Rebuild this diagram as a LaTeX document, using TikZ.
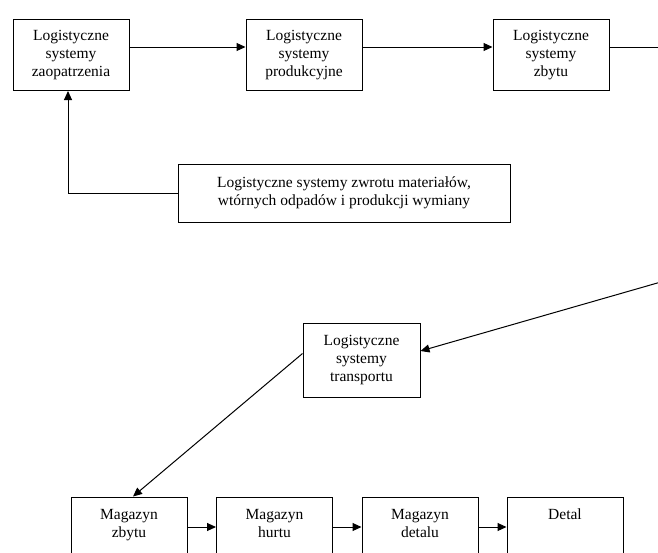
\documentclass[tikz,border=0pt]{standalone}
\usepackage{fontspec}
\setmainfont{Liberation Serif}
\usetikzlibrary{positioning, calc, arrows.meta}

\tikzset{
    box/.style={draw, line width=1pt, minimum width=116pt, minimum height=71pt,
        align=center, inner sep=2pt, font=\fontsize{15.5}{18.3}\selectfont},
    flow/.style={line width=1pt, -{Triangle[length=9pt, width=8pt]}},
    wire/.style={line width=1pt}
}

\begin{document}
\begin{tikzpicture}[x=1pt, y=-1pt]
        \useasboundingbox (0,0) rectangle (658,552);

        % Top row
        \node[box] (sup) at (71,55) {Logistyczne\\systemy\\zaopatrzenia};
        \node[box] (prod) at (304,55) {Logistyczne\\systemy\\produkcyjne};
        \node[box] (sale) at (551,55) {Logistyczne\\systemy\\zbytu};
        \coordinate (outr) at (680,47);

        % Return systems
        \node[box, minimum width=332pt, minimum height=58pt] (ret) at (344,193)
            {Logistyczne systemy zwrotu materiałów,\\wtórnych odpadów i produkcji wymiany};

        % Transport
        \node[box, minimum width=117pt, minimum height=74pt] (trans) at (361.5,360)
            {Logistyczne\\systemy\\transportu};
        \coordinate (inr) at (680,276.5);

        % Bottom row
        \node[box] (mzb) at (129,532.5) {Magazyn\\zbytu\\~};
        \node[box] (mhu) at (274.5,532.5) {Magazyn\\hurtu\\~};
        \node[box] (mde) at (420,532.5) {Magazyn\\detalu\\~};
        \node[box] (det) at (565,532.5) {Detal\\~\\~};

        % Connectors
        \draw[flow] ([yshift=8pt]sup.east) -- ([yshift=8pt]prod.west);
        \draw[flow] ([yshift=8pt]prod.east) -- ([yshift=8pt]sale.west);
        \draw[wire] ([yshift=8pt]sale.east) -- (outr);
        \draw[flow] (ret.west) -| ([xshift=-3pt]sup.south);
        \draw[flow] (inr) -- ([yshift=9pt]trans.east);
        \draw[flow] ([yshift=6.5pt]trans.west) -- ([xshift=4pt]mzb.north);
        \draw[flow] ([yshift=5.5pt]mzb.east) -- ([yshift=5.5pt]mhu.west);
        \draw[flow] ([yshift=5.5pt]mhu.east) -- ([yshift=5.5pt]mde.west);
        \draw[flow] ([yshift=5.5pt]mde.east) -- ([yshift=5.5pt]det.west);
    \end{tikzpicture}
\end{document}
